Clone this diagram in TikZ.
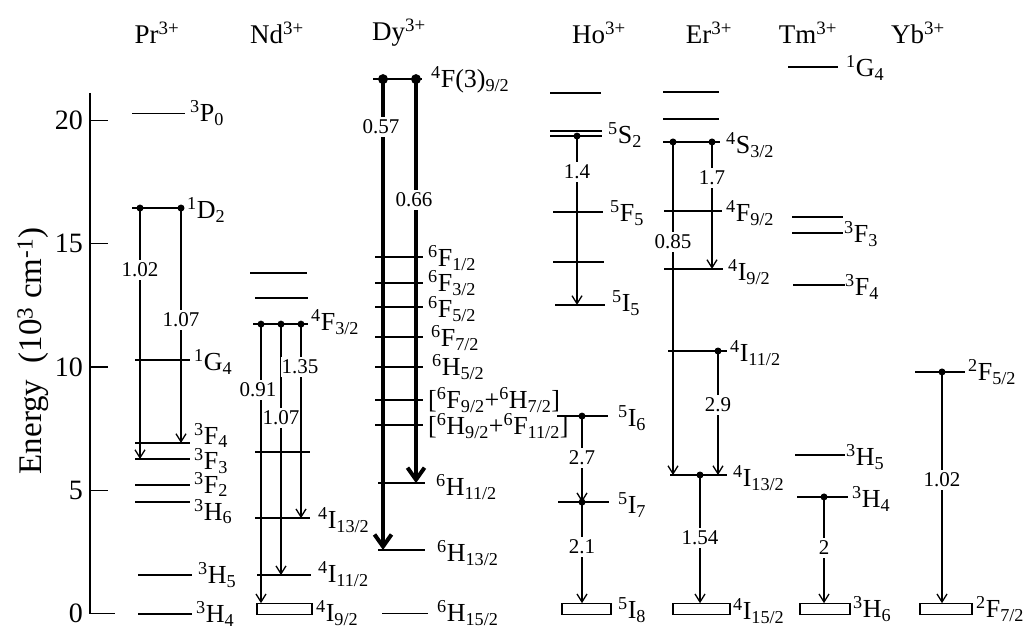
\documentclass[tikz,border=0pt]{standalone}
\usepackage{fontspec}
\setmainfont{Liberation Serif}
\usetikzlibrary{arrows.meta}

\newcommand{\niv}[3]{\textsuperscript{#1}#2\textsubscript{#3}}

\begin{document}
\begin{tikzpicture}[x=1pt,y=24.65pt,
		niveau/.style={line width=2pt},
		duenn/.style={line width=1.2pt},
		grund/.style={line width=1.3pt,fill=white},
		pfeil/.style={line width=1.3pt,-{Straight Barb[length=8pt,width=10pt]}},
		dickpfeil/.style={line width=4pt,-{Straight Barb[length=12pt,width=17pt]}},
		rate/.style={fill=white,inner xsep=0.5pt,inner ysep=3pt,font=\fontsize{21}{23}\selectfont},
		term/.style={anchor=west,inner sep=0pt,font=\fontsize{26}{28}\selectfont},
		ion/.style={font=\fontsize{27}{29}\selectfont},
		skala/.style={anchor=east,inner sep=0pt,font=\fontsize{28}{30}\selectfont}]

	\useasboundingbox (0,-0.71) rectangle (1024,24.89);

	%Achse
	\draw[line width=1.2pt] (90,21.12) -- (90,0) -- (115,0);
	\foreach \e in {5,10,15,20}
		\draw[line width=1.2pt] (90,\e) -- (108,\e);
	\foreach \e in {0,5,10,15,20}
		\node[skala] (t\e) at (83,\e) {\e};
	\node[rotate=90,font=\fontsize{33}{35}\selectfont] (titel) at (33,10.65) {Energy\ \ (10\textsuperscript{3} cm\textsuperscript{-1})};

	%Ionen
	\node[ion] (pr) at (157,23.55) {Pr\textsuperscript{3+}};
	\node[ion] (nd) at (277,23.55) {Nd\textsuperscript{3+}};
	\node[ion] (dy) at (399,23.55) {Dy\textsuperscript{3+}};
	\node[ion] (ho) at (599,23.55) {Ho\textsuperscript{3+}};
	\node[ion] (er) at (709,23.55) {Er\textsuperscript{3+}};
	\node[ion] (tm) at (808,23.55) {Tm\textsuperscript{3+}};
	\node[ion] (yb) at (918,23.55) {Yb\textsuperscript{3+}};

	%Pr
	\draw[duenn] (132,20.30) -- (185,20.30);
	\draw[niveau] (132,16.45) -- (183,16.45);
	\draw[niveau] (135,10.28) -- (190,10.28);
	\draw[niveau] (135,6.92) -- (190,6.92);
	\draw[niveau] (135,6.27) -- (190,6.27);
	\draw[niveau] (135,5.21) -- (190,5.21);
	\draw[niveau] (135,4.52) -- (190,4.52);
	\draw[niveau] (138,1.56) -- (192,1.56);
	\draw[niveau] (138,0) -- (192,0);
	\coordinate (prA) at (140,16.45);
	\coordinate (prB) at (181,16.45);
	\coordinate (prF3) at (140,6.27);
	\coordinate (prF4) at (181,6.92);
	\draw[pfeil] (prA) -- (prF3);
	\draw[pfeil] (prB) -- (prF4);
	\fill (prA) circle (3.5pt);
	\fill (prB) circle (3.5pt);
	\node[rate] (pr1) at (140,13.94) {1.02};
	\node[rate] (pr2) at (181,11.91) {1.07};
	\node[term] (prl1) at (190,20.30) {\niv{3}{P}{0}};
	\node[term] (prl2) at (187,16.37) {\niv{1}{D}{2}};
	\node[term] (prl3) at (194,10.20) {\niv{1}{G}{4}};
	\node[term] (prl4) at (194,7.22) {\niv{3}{F}{4}};
	\node[term] (prl5) at (194,6.20) {\niv{3}{F}{3}};
	\node[term] (prl6) at (194,5.24) {\niv{3}{F}{2}};
	\node[term] (prl7) at (194,4.14) {\niv{3}{H}{6}};
	\node[term] (prl8) at (198,1.56) {\niv{3}{H}{5}};
	\node[term] (prl9) at (196,-0.02) {\niv{3}{H}{4}};

	%Nd
	\draw[niveau] (250,13.81) -- (307,13.81);
	\draw[niveau] (255,12.80) -- (308,12.80);
	\draw[niveau] (253,11.74) -- (308,11.74);
	\draw[niveau] (255,6.55) -- (310,6.55);
	\draw[niveau] (255,3.87) -- (310,3.87);
	\draw[niveau] (257,1.56) -- (311,1.56);
	\draw[grund] (257,-0.05) rectangle (312,0.42);
	\coordinate (ndA) at (261,11.74);
	\coordinate (ndB) at (281,11.74);
	\coordinate (ndC) at (301,11.74);
	\coordinate (ndI9) at (261,0.42);
	\coordinate (ndI11) at (281,1.56);
	\coordinate (ndI13) at (301,3.87);
	\draw[pfeil] (ndA) -- (ndI9);
	\draw[pfeil] (ndB) -- (ndI11);
	\draw[pfeil] (ndC) -- (ndI13);
	\foreach \p in {ndA,ndB,ndC}
		\fill (\p) circle (3.5pt);
	\node[rate] (nd1) at (258,9.07) {0.91};
	\node[rate] (nd2) at (281,7.93) {1.07};
	\node[rate] (nd3) at (300,10.00) {1.35};
	\node[term] (ndl1) at (311,11.83) {\niv{4}{F}{3/2}};
	\node[term] (ndl2) at (318,3.79) {\niv{4}{I}{13/2}};
	\node[term] (ndl3) at (318,1.60) {\niv{4}{I}{11/2}};
	\node[term] (ndl4) at (316,0.02) {\niv{4}{I}{9/2}};

	%Dy
	\draw[niveau] (373,21.68) -- (422,21.68);
	\foreach \e in {14.46,13.41,12.43,11.22,10.00,8.66,7.65}
		\draw[niveau] (375,\e) -- (423,\e);
	\draw[niveau] (378,5.29) -- (425,5.29);
	\draw[niveau] (378,2.58) -- (425,2.58);
	\draw[duenn] (382,0) -- (428,0);
	\coordinate (dyA) at (383,21.68);
	\coordinate (dyB) at (416,21.68);
	\coordinate (dyH13) at (383,2.58);
	\coordinate (dyH11) at (416,5.29);
	\draw[dickpfeil] (dyA) -- (dyH13);
	\draw[dickpfeil] (dyB) -- (dyH11);
	\fill (dyA) circle (5pt);
	\fill (dyB) circle (5pt);
	\node[rate] (dy1) at (381,19.74) {0.57};
	\node[rate] (dy2) at (414,16.77) {0.66};
	\node[term] (dyl1) at (431,21.64) {\niv{4}{F(3)}{9/2}};
	\node[term] (dyl2) at (428,14.42) {\niv{6}{F}{1/2}};
	\node[term] (dyl3) at (428,13.41) {\niv{6}{F}{3/2}};
	\node[term] (dyl4) at (428,12.35) {\niv{6}{F}{5/2}};
	\node[term] (dyl5) at (431,11.18) {\niv{6}{F}{7/2}};
	\node[term] (dyl6) at (432,10.00) {\niv{6}{H}{5/2}};
	\node[term] (dyl7) at (428,8.66) {[\niv{6}{F}{9/2}+\niv{6}{H}{7/2}]};
	\node[term] (dyl8) at (428,7.61) {[\niv{6}{H}{9/2}+\niv{6}{F}{11/2}]};
	\node[term] (dyl9) at (436,5.13) {\niv{6}{H}{11/2}};
	\node[term] (dyl10) at (437,2.46) {\niv{6}{H}{13/2}};
	\node[term] (dyl11) at (437,0.02) {\niv{6}{H}{15/2}};

	%Ho
	\draw[niveau] (550,21.12) -- (601,21.12);
	\draw[niveau] (550,19.57) -- (602,19.57);
	\draw[niveau] (550,19.37) -- (602,19.37);
	\draw[niveau] (553,16.29) -- (603,16.29);
	\draw[niveau] (553,14.26) -- (604,14.26);
	\draw[niveau] (555,12.52) -- (605,12.52);
	\draw[niveau] (557,8.01) -- (608,8.01);
	\draw[niveau] (558,4.52) -- (609,4.52);
	\draw[grund] (562,-0.05) rectangle (611,0.42);
	\coordinate (hoS2) at (577,19.37);
	\coordinate (hoI5) at (577,12.52);
	\coordinate (hoI6) at (582,8.01);
	\coordinate (hoI7) at (582,4.52);
	\coordinate (hoI8) at (582,0.42);
	\draw[pfeil] (hoS2) -- (hoI5);
	\draw[pfeil] (hoI6) -- (hoI7);
	\draw[pfeil] (hoI7) -- (hoI8);
	\foreach \p in {hoS2,hoI6,hoI7}
		\fill (\p) circle (3.5pt);
	\node[rate] (ho1) at (577,17.91) {1.4};
	\node[rate] (ho2) at (582,6.31) {2.7};
	\node[rate] (ho3) at (582,2.70) {2.1};
	\node[term] (hol1) at (608,19.41) {\niv{5}{S}{2}};
	\node[term] (hol2) at (610,16.25) {\niv{5}{F}{5}};
	\node[term] (hol3) at (612,12.60) {\niv{5}{I}{5}};
	\node[term] (hol4) at (618,7.93) {\niv{5}{I}{6}};
	\node[term] (hol5) at (618,4.40) {\niv{5}{I}{7}};
	\node[term] (hol6) at (618,0.14) {\niv{5}{I}{8}};

	%Er
	\draw[duenn] (663,21.16) -- (719,21.16);
	\draw[duenn] (663,20.06) -- (719,20.06);
	\draw[niveau] (663,19.13) -- (720,19.13);
	\draw[niveau] (664,16.33) -- (722,16.33);
	\draw[niveau] (664,13.98) -- (723,13.98);
	\draw[niveau] (668,10.65) -- (727,10.65);
	\draw[niveau] (670,5.62) -- (727,5.62);
	\draw[grund] (673,-0.05) rectangle (730,0.42);
	\coordinate (erS3a) at (673,19.13);
	\coordinate (erS3b) at (712,19.13);
	\coordinate (erI9) at (712,13.98);
	\coordinate (erI11) at (718,10.65);
	\coordinate (erI13a) at (673,5.62);
	\coordinate (erI13b) at (718,5.62);
	\coordinate (erI13) at (700,5.62);
	\coordinate (erI15) at (700,0.42);
	\draw[pfeil] (erS3a) -- (erI13a);
	\draw[pfeil] (erS3b) -- (erI9);
	\draw[pfeil] (erI11) -- (erI13b);
	\draw[pfeil] (erI13) -- (erI15);
	\foreach \p in {erS3a,erS3b,erI11,erI13}
		\fill (\p) circle (3.5pt);
	\node[rate] (er1) at (712,17.67) {1.7};
	\node[rate] (er2) at (673,15.07) {0.85};
	\node[rate] (er3) at (718,8.46) {2.9};
	\node[rate] (er4) at (700,3.06) {1.54};
	\node[term] (erl1) at (726,19.01) {\niv{4}{S}{3/2}};
	\node[term] (erl2) at (726,16.25) {\niv{4}{F}{9/2}};
	\node[term] (erl3) at (728,13.85) {\niv{4}{I}{9/2}};
	\node[term] (erl4) at (730,10.57) {\niv{4}{I}{11/2}};
	\node[term] (erl5) at (733,5.50) {\niv{4}{I}{13/2}};
	\node[term] (erl6) at (733,0.10) {\niv{4}{I}{15/2}};

	%Tm
	\draw[duenn] (788,22.17) -- (838,22.17);
	\draw[duenn] (792,16.09) -- (843,16.09);
	\draw[duenn] (792,15.44) -- (843,15.44);
	\draw[duenn] (793,13.33) -- (845,13.33);
	\draw[niveau] (795,6.43) -- (845,6.43);
	\draw[niveau] (797,4.73) -- (848,4.73);
	\draw[grund] (800,-0.05) rectangle (850,0.42);
	\coordinate (tmH4) at (824,4.73);
	\coordinate (tmH6) at (824,0.42);
	\draw[pfeil] (tmH4) -- (tmH6);
	\fill (tmH4) circle (3.5pt);
	\node[rate] (tm1) at (824,2.66) {2};
	\node[term] (tml1) at (846,22.13) {\niv{1}{G}{4}};
	\node[term] (tml2) at (844,15.40) {\niv{3}{F}{3}};
	\node[term] (tml3) at (845,13.25) {\niv{3}{F}{4}};
	\node[term] (tml4) at (846,6.35) {\niv{3}{H}{5}};
	\node[term] (tml5) at (852,4.65) {\niv{3}{H}{4}};
	\node[term] (tml6) at (853,0.18) {\niv{3}{H}{6}};

	%Yb
	\draw[niveau] (915,9.80) -- (965,9.80);
	\draw[grund] (920,-0.05) rectangle (972,0.42);
	\coordinate (ybF5) at (942,9.80);
	\coordinate (ybF7) at (942,0.42);
	\draw[pfeil] (ybF5) -- (ybF7);
	\fill (ybF5) circle (3.5pt);
	\node[rate] (yb1) at (942,5.42) {1.02};
	\node[term] (ybl1) at (968,9.80) {\niv{2}{F}{5/2}};
	\node[term] (ybl2) at (976,0.18) {\niv{2}{F}{7/2}};

\end{tikzpicture}
\end{document}
